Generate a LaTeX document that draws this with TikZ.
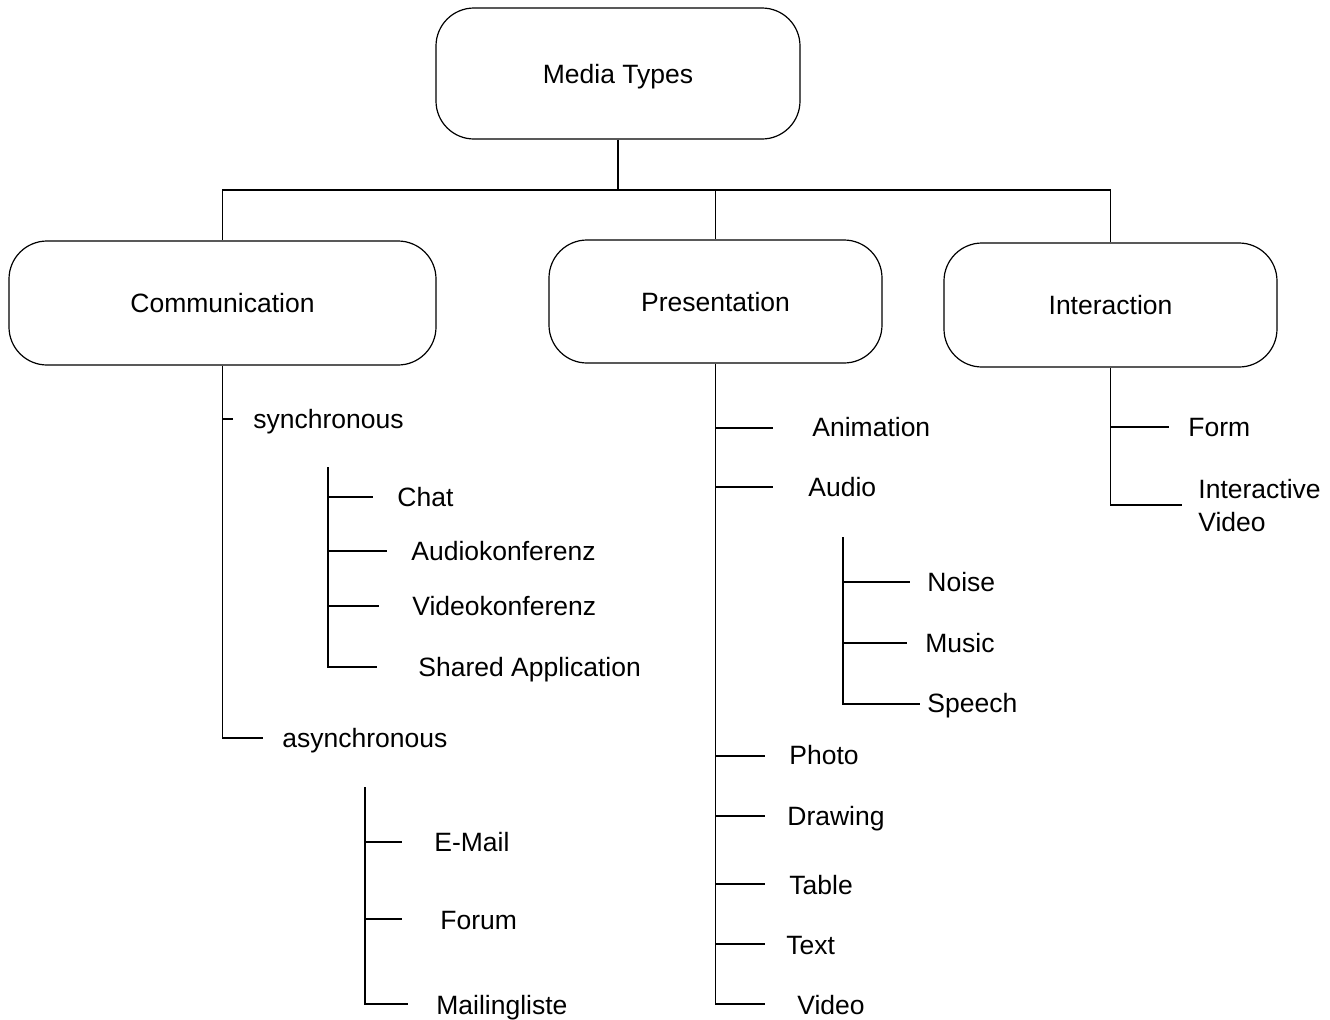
\documentclass[tikz,border=0pt]{standalone}
\usepackage{fontspec}
\setmainfont{Liberation Sans}
\begin{document}
\begin{tikzpicture}[x=0.5pt,y=-0.5pt,
  every node/.style={font=\fontsize{13.25}{16.5}\selectfont},
  box/.style={draw, line width=0.6pt, rounded corners=19pt, minimum height=62pt, inner sep=0pt, text height=9.5pt, text depth=0pt},
  lbl/.style={anchor=west, inner sep=0pt, text height=9.5pt, text depth=0pt},
  ln/.style={line width=0.6pt}]
\useasboundingbox (0,0) rectangle (1330,1019);
% boxes
\node[box, minimum width=182pt, minimum height=65.5pt] (root) at (618,73.5) {Media Types};
\node[box, minimum width=213.5pt] (comm) at (222.5,303) {Communication};
\node[box, minimum width=166.5pt, minimum height=61.5pt] (pres) at (715.5,301.5) {Presentation};
\node[box, minimum width=166.5pt] (inter) at (1110.5,305) {Interaction};
% bus
\coordinate (bus) at (619,190);
\draw[ln] (root.south) -- (root.south |- bus) -| (comm.north);
\draw[ln] (root.south |- bus) -| (pres.north);
\draw[ln] (root.south |- bus) -| (inter.north);
% Communication
\coordinate (t-sync) at (233,419);
\coordinate (t-async) at (263,738);
\draw[ln] (comm.south) |- (t-async);
\draw[ln] (comm.south |- t-sync) -- (t-sync);
\coordinate (s1) at (328,467);
\coordinate (t-chat) at (373,497);
\coordinate (t-audk) at (387,551);
\coordinate (t-vidk) at (379,606);
\coordinate (t-shared) at (377,667);
\draw[ln] (s1) |- (t-shared);
\foreach \t in {t-chat,t-audk,t-vidk} \draw[ln] (s1 |- \t) -- (\t);
\coordinate (s2) at (365,787);
\coordinate (t-email) at (402,842);
\coordinate (t-forum) at (402,919);
\coordinate (t-mail) at (408,1004);
\draw[ln] (s2) |- (t-mail);
\foreach \t in {t-email,t-forum} \draw[ln] (s2 |- \t) -- (\t);
\node[lbl] (sync) at (253,419) {synchronous};
\node[lbl] (chat) at (397,497) {Chat};
\node[lbl] (audk) at (411,551) {Audiokonferenz};
\node[lbl] (vidk) at (412,606) {Videokonferenz};
\node[lbl] (shared) at (418,667) {Shared Application};
\node[lbl] (async) at (282,738) {asynchronous};
\node[lbl] (email) at (434,842) {E-Mail};
\node[lbl] (forum) at (440,920) {Forum};
\node[lbl] (mail) at (436,1005) {Mailingliste};
% Presentation
\coordinate (t-anim) at (773,428);
\coordinate (t-audio) at (773,487);
\coordinate (t-photo) at (765,756);
\coordinate (t-draw) at (765,816);
\coordinate (t-table) at (765,884);
\coordinate (t-text) at (765,944);
\coordinate (t-video) at (765,1004);
\draw[ln] (pres.south) |- (t-video);
\foreach \t in {t-anim,t-audio,t-photo,t-draw,t-table,t-text} \draw[ln] (pres.south |- \t) -- (\t);
\coordinate (s3) at (843,537);
\coordinate (t-noise) at (910,582);
\coordinate (t-music) at (907,643);
\coordinate (t-speech) at (920,704);
\draw[ln] (s3) |- (t-speech);
\foreach \t in {t-noise,t-music} \draw[ln] (s3 |- \t) -- (\t);
\node[lbl] (anim) at (812,427) {Animation};
\node[lbl] (audio) at (808,487) {Audio};
\node[lbl] (noise) at (927,582) {Noise};
\node[lbl] (music) at (925,643) {Music};
\node[lbl] (speech) at (927,703) {Speech};
\node[lbl] (photo) at (789,755) {Photo};
\node[lbl] (drawing) at (787,816) {Drawing};
\node[lbl] (table) at (789,885) {Table};
\node[lbl] (text) at (786,945) {Text};
\node[lbl] (video) at (797,1005) {Video};
% Interaction
\coordinate (t-form) at (1169,427);
\coordinate (t-iv) at (1182,505);
\draw[ln] (inter.south) |- (t-iv);
\draw[ln] (inter.south |- t-form) -- (t-form);
\node[lbl] (form) at (1188,427) {Form};
\node[anchor=north west, inner sep=0pt, align=left] (iv) at (1198,478.5) {Interactive\\Video};
\end{tikzpicture}
\end{document}
